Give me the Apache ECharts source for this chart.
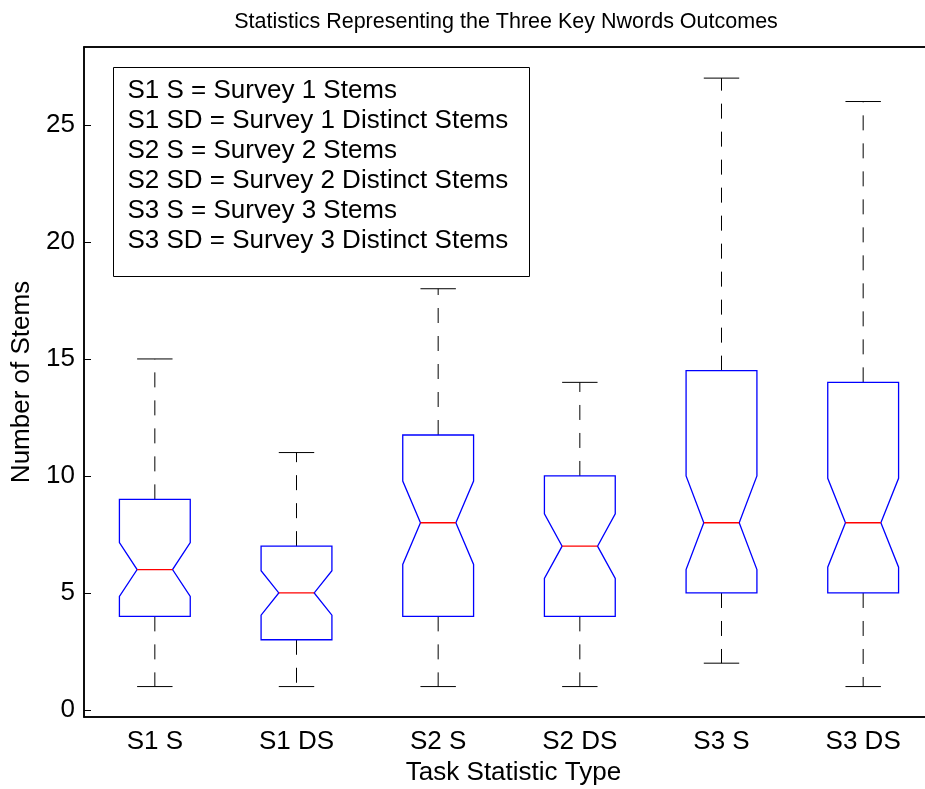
<!DOCTYPE html>
<html>
<head>
<meta charset="utf-8">
<script src="https://cdn.jsdelivr.net/npm/echarts@6/dist/echarts.min.js"></script>
<style>html,body{margin:0;padding:0;background:#fff}#c{width:925px;height:789px}</style>
</head>
<body>
<div id="c"></div>
<script>
var categories = ['S1 S', 'S1 DS', 'S2 S', 'S2 DS', 'S3 S', 'S3 DS'];
var whiskerLow = [1, 1, 1, 1, 2, 1];
var q1 = [4, 3, 4, 4, 5, 5];
var median = [6, 5, 8, 7, 8, 8];
var q3 = [9, 7, 11.75, 10, 14.5, 14];
var whiskerHigh = [15, 11, 18, 14, 27, 26];
var notchLow = [4.85, 4.05, 6.22, 5.62, 6.0, 6.1];
var notchHigh = [7.15, 5.95, 9.78, 8.38, 10.0, 9.9];
var yTicks = [0, 5, 10, 15, 20, 25];
var legendLines = [
  'S1 S = Survey 1 Stems',
  'S1 SD = Survey 1 Distinct Stems',
  'S2 S = Survey 2 Stems',
  'S2 SD = Survey 2 Distinct Stems',
  'S3 S = Survey 3 Stems',
  'S3 SD = Survey 3 Distinct Stems'
];

var FONT = '"Liberation Sans", Arial, Helvetica, sans-serif';
var FS = 26;
var boxData = categories.map(function (c, i) {
  return [i, whiskerLow[i], q1[i], median[i], q3[i], whiskerHigh[i], notchLow[i], notchHigh[i]];
});

function renderBox(params, api) {
  var i = api.value(0);
  var bw = api.size([1, 0])[0];
  var half = bw * 0.25, nh = bw * 0.125;
  function P(v) { return api.coord([i, v]); }
  var c = P(api.value(3));
  var x = c[0];
  var yLow = P(api.value(1))[1], yQ1 = P(api.value(2))[1], yMed = c[1];
  var yQ3 = P(api.value(4))[1], yHigh = P(api.value(5))[1];
  var yNL = P(api.value(6))[1], yNH = P(api.value(7))[1];
  var L = x - half, R = x + half, cL = x - nh, cR = x + nh;
  var dash = { stroke: '#000', lineWidth: 1, lineDash: [15, 13], fill: null };
  var solid = { stroke: '#000', lineWidth: 1, fill: null };
  return {
    type: 'group',
    children: [
      { type: 'line', shape: { x1: x, y1: yQ3, x2: x, y2: yHigh }, style: dash },
      { type: 'line', shape: { x1: x, y1: yQ1, x2: x, y2: yLow }, style: dash },
      { type: 'line', shape: { x1: cL, y1: yHigh, x2: cR, y2: yHigh }, style: solid },
      { type: 'line', shape: { x1: cL, y1: yLow, x2: cR, y2: yLow }, style: solid },
      { type: 'polygon', shape: { points: [
          [L, yQ1], [R, yQ1], [R, yNL], [cR, yMed], [R, yNH], [R, yQ3],
          [L, yQ3], [L, yNH], [cL, yMed], [L, yNL]
        ] }, style: { stroke: '#0000ff', lineWidth: 1.3, fill: null } },
      { type: 'line', shape: { x1: cL, y1: yMed, x2: cR, y2: yMed }, style: { stroke: '#ff0000', lineWidth: 1.3 } }
    ]
  };
}

var chart = echarts.init(document.getElementById('c'), null, { renderer: 'canvas' });
var legendChildren = [{
  type: 'rect',
  shape: { x: 0, y: 0, width: 416, height: 209 },
  style: { fill: '#fff', stroke: '#000', lineWidth: 1 }
}];
legendLines.forEach(function (t, k) {
  legendChildren.push({
    type: 'text',
    x: 14, y: 23 + k * 30,
    style: { text: t, font: FS + 'px ' + FONT, fill: '#000', verticalAlign: 'middle' }
  });
});

chart.setOption({
  animation: false,
  backgroundColor: '#fff',
  title: {
    text: 'Statistics Representing the Three Key Nwords Outcomes',
    left: 501, top: 6, textAlign: 'center',
    textStyle: { fontFamily: FONT, fontSize: 21.5, fontWeight: 'normal', color: '#000' }
  },
  grid: {
    left: 84, top: 47, width: 850, height: 670, outerBoundsMode: 'none', containLabel: false,
    show: true, borderColor: '#000', borderWidth: 1.5, backgroundColor: 'transparent'
  },
  xAxis: [{
    type: 'category', data: categories, boundaryGap: true,
    name: 'Task Statistic Type', nameLocation: 'middle', nameGap: 43,
    nameTextStyle: { fontFamily: FONT, fontSize: FS, color: '#000', padding: [0, 0, 0, 9] },
    axisLine: { onZero: false, lineStyle: { color: '#000', width: 1.5 } },
    axisTick: { inside: true, alignWithLabel: true, length: 7, lineStyle: { color: '#000' } },
    axisLabel: { fontFamily: FONT, fontSize: FS, color: '#000', margin: 12 },
    splitLine: { show: false }
  }, {
    type: 'category', data: categories, boundaryGap: true, position: 'top',
    axisLine: { onZero: false, lineStyle: { color: '#000', width: 1.5 } },
    axisTick: { inside: true, alignWithLabel: true, length: 7, lineStyle: { color: '#000' } },
    axisLabel: { show: false }, splitLine: { show: false }
  }],
  yAxis: {
    type: 'value', min: -0.3, max: 28.33,
    name: 'Number of Stems', nameLocation: 'middle', nameGap: 49, nameRotate: 90,
    nameTextStyle: { fontFamily: FONT, fontSize: FS, color: '#000' },
    axisLine: { show: true, onZero: false, lineStyle: { color: '#000', width: 1.5 } },
    axisTick: { show: true, inside: true, length: 7, customValues: yTicks, lineStyle: { color: '#000' } },
    axisLabel: { fontFamily: FONT, fontSize: FS, color: '#000', margin: 9, customValues: yTicks },
    splitLine: { show: false }
  },
  graphic: [{ type: 'group', left: 113, top: 67, children: legendChildren, z: 100 }],
  series: [{
    type: 'custom', name: 'boxes', renderItem: renderBox, data: boxData,
    encode: { x: 0, y: [1, 2, 3, 4, 5] }, clip: false, z: 2
  }]
});
</script>
</body>
</html>
